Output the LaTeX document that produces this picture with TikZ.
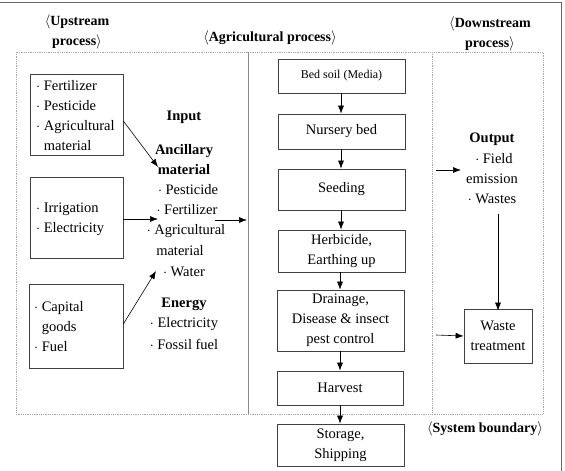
\documentclass[tikz,border=0pt]{standalone}
\usepackage{fontspec}
\setmainfont{Liberation Serif}
\usetikzlibrary{arrows.meta}
\begin{document}
\begin{tikzpicture}[x=1pt,y=-1pt,
  txt/.style={font=\fontsize{14.5}{20}\selectfont, align=center, inner sep=0pt},
  head/.style={font=\fontsize{14}{20}\selectfont\bfseries, align=center, inner sep=0pt},
  ltxt/.style={font=\fontsize{14.5}{20}\selectfont, align=left, inner sep=0pt, anchor=west},
  bx/.style={draw=black!75, line width=0.7pt, inner sep=0pt},
  bnd/.style={draw=black!35, line width=0.8pt, densely dotted},
  arr/.style={-{Latex[length=8pt,width=6pt]}, line width=0.6pt, black}]
\useasboundingbox (0,0) rectangle (565,471);
% outer frame
\draw[black!60, line width=0.8pt] (0,2) -- (561,2) -- (561,471);
% system boundary boxes
\draw[bnd] (16,52) rectangle (248,414);
\draw[bnd] (248,52) -- (432,52);
\draw[bnd] (248,414) -- (432,414);
\draw[bnd] (432,52) rectangle (543,414);
\draw[black!45, line width=0.8pt] (248,52) -- (248,414);
% headings
\node[head] (hu) at (77,32) {$\langle$Upstream\\process$\rangle$};
\node[head] (ha) at (270,38) {$\langle$Agricultural process$\rangle$};
\node[head] (hd) at (490,34) {$\langle$Downstream\\process$\rangle$};
\node[head] (hs) at (485,429) {$\langle$System boundary$\rangle$};
% upstream boxes
\node[bx, minimum width=93pt, minimum height=81pt] (u1) at (76.5,114.5) {};
\node[ltxt] (u1t) at (36,116) {$\cdot$ Fertilizer\\$\cdot$ Pesticide\\$\cdot$ Agricultural\\\phantom{$\cdot$ }material};
\node[bx, minimum width=93pt, minimum height=81pt] (u2) at (76.5,217.5) {};
\node[ltxt] (u2t) at (36,219) {$\cdot$ Irrigation\\$\cdot$ Electricity};
\node[bx, minimum width=94pt, minimum height=84pt] (u3) at (76,326) {};
\node[ltxt] (u3t) at (34,327) {$\cdot$ Capital\\\phantom{$\cdot$ }goods\\$\cdot$ Fuel};
% input column
\node[txt, font=\fontsize{14.5}{20}\selectfont\bfseries] (inp) at (184,117) {Input};
\node[txt, font=\fontsize{14.5}{20}\selectfont\bfseries] (anc) at (184,160) {Ancillary\\material};
\node[txt] (i1) at (188,190) {$\cdot$ Pesticide};
\node[txt] (i2) at (187,210) {$\cdot$ Fertilizer};
\node[txt] (i3) at (186,231) {$\cdot$ Agricultural};
\node[txt] (i4) at (180,251) {material};
\node[txt] (i5) at (184,272) {$\cdot$ Water};
\node[txt, font=\fontsize{14.5}{20}\selectfont\bfseries] (en) at (184,304) {Energy};
\node[txt] (e1) at (184,324) {$\cdot$ Electricity};
\node[txt] (e2) at (184,344) {$\cdot$ Fossil fuel};
\coordinate (c1) at (158,167);
\coordinate (c2) at (158,219);
\coordinate (c3) at (156,271);
\coordinate (c4s) at (215,220);
\coordinate (c4e) at (247,220);
\draw[arr] (u1.east |- 0,121) -- (c1);
\draw[arr] (u2.east |- 0,219) -- (c2);
\draw[arr] (u3.east |- 0,324) -- (c3);
\draw[arr] (c4s) -- (c4e);
% agricultural chain
\node[bx, minimum width=127pt, minimum height=34pt, font=\fontsize{12}{14}\selectfont] (a1) at (341.5,76) {Bed soil (Media)};
\node[bx, minimum width=127pt, minimum height=35pt, txt] (a2) at (341.5,131.5) {Nursery bed};
\node[bx, minimum width=127pt, minimum height=41pt, txt] (a3) at (341.5,189.5) {Seeding};
\node[bx, minimum width=127pt, minimum height=42pt, txt] (a4) at (341.5,251) {Herbicide,\\Earthing up};
\node[bx, minimum width=127pt, minimum height=61pt, txt] (a5) at (340.5,320.5) {Drainage,\\Disease \& insect\\pest control};
\node[bx, minimum width=126pt, minimum height=34pt, txt] (a6) at (340,388) {Harvest};
\node[bx, minimum width=127pt, minimum height=42pt, txt] (a7) at (340.5,445) {Storage,\\Shipping};
\draw[arr] (a1.south -| 341,0) -- (a2.north -| 341,0);
\draw[arr] (a2.south -| 341,0) -- (a3.north -| 341,0);
\draw[arr] (a3.south -| 341,0) -- (a4.north -| 341,0);
\draw[arr] (a4.south -| 340,0) -- (a5.north -| 340,0);
\draw[arr] (a5.south -| 340,0) -- (a6.north -| 340,0);
\draw[arr] (a6.south -| 340,0) -- (a7.north -| 340,0);
% downstream
\node[txt, font=\fontsize{14.5}{20}\selectfont\bfseries] (out) at (492,139) {Output};
\node[txt] (o1) at (494,159) {$\cdot$ Field};
\node[txt] (o2) at (492,179) {emission};
\node[txt] (o3) at (492,199) {$\cdot$ Wastes};
\node[bx, minimum width=68pt, minimum height=54pt, txt] (wt) at (498,336) {Waste\\treatment};
\coordinate (d1s) at (436,170);
\coordinate (d1e) at (461,170);
\coordinate (d2s) at (498,214);
\coordinate (d3s) at (436,335);
\draw[arr] (d1s) -- (d1e);
\draw[arr] (d2s) -- ([yshift=-2pt]wt.north);
\draw[arr] (d3s) -- (wt.west);
\end{tikzpicture}
\end{document}
